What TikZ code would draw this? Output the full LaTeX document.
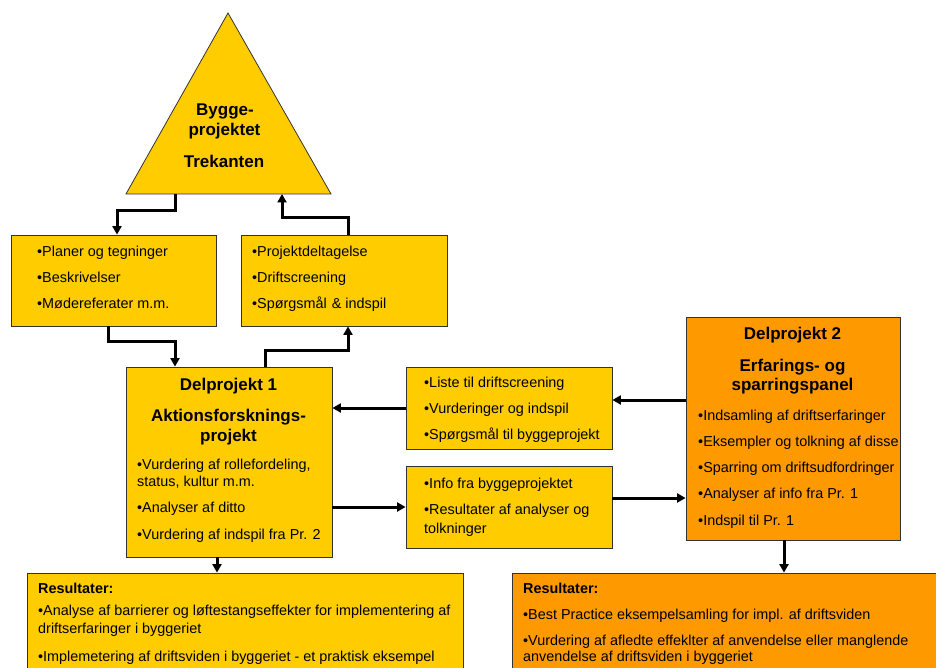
\documentclass[tikz,border=0pt]{standalone}
\usepackage{fontspec}
\setmainfont{Liberation Sans}
\usetikzlibrary{arrows.meta}
\definecolor{gulfelt}{HTML}{FFCC00}
\definecolor{orangefelt}{HTML}{FF9900}
\begin{document}
\begin{tikzpicture}[x=1pt,y=-1pt,
  felt/.style={draw=black!80,line width=0.8pt,fill=gulfelt,inner sep=0},
  ofelt/.style={felt,fill=orangefelt},
  pil/.style={line width=3pt,-{Triangle[length=8.5pt,width=9pt]}},
  tekst/.style={anchor=base west,inner sep=0,font=\fontsize{14.4}{16}\selectfont},
  titel/.style={anchor=base,inner sep=0,font=\fontsize{17}{20}\selectfont\bfseries},
  rtitel/.style={anchor=base west,inner sep=0,font=\fontsize{14.4}{16}\selectfont\bfseries}]
\useasboundingbox (0,0) rectangle (936,668);
\clip (0,0) rectangle (936,668);
\draw[felt] (228,13) -- (331,194) -- (126,194) -- cycle;
\coordinate (trigrund) at (228,194);
\node[titel] (tri1) at (225,116) {Bygge-};
\node[titel] (tri2) at (224.5,136) {projektet};
\node[titel] (tri3) at (224,167.5) {Trekanten};
\node[felt,minimum width=205pt,minimum height=91pt] (plan) at (113.5,280.5) {};
\node[tekst] (plan1) at (37,256) {•Planer og tegninger};
\node[tekst] (plan2) at (37,282) {•Beskrivelser};
\node[tekst] (plan3) at (37,308) {•Mødereferater m.m.};
\node[felt,minimum width=206pt,minimum height=91pt] (deltag) at (344,280.5) {};
\node[tekst] (deltag1) at (252,256) {•Projektdeltagelse};
\node[tekst] (deltag2) at (252,282) {•Driftscreening};
\node[tekst] (deltag3) at (252,308) {•Spørgsmål\hspace{5pt}\& indspil};
\node[felt,minimum width=206pt,minimum height=190pt] (dp1) at (229,462) {};
\node[titel] (dp1a) at (228.5,390) {Delprojekt 1};
\node[titel] (dp1b) at (228.5,421.5) {Aktionsforsknings-};
\node[titel] (dp1c) at (228.5,441) {projekt};
\node[tekst] (dp1d) at (137,469) {•Vurdering af rollefordeling,};
\node[tekst] (dp1e) at (137,486) {status, kultur m.m.};
\node[tekst] (dp1f) at (137,512) {•Analyser af ditto};
\node[tekst] (dp1g) at (137,539) {•Vurdering af indspil fra Pr. 2};
\node[felt,minimum width=206pt,minimum height=82pt] (liste) at (509,408) {};
\node[tekst] (liste1) at (424,387) {•Liste til driftscreening};
\node[tekst] (liste2) at (424,413) {•Vurderinger og indspil};
\node[tekst] (liste3) at (424,439) {•Spørgsmål til byggeprojekt};
\node[felt,minimum width=206pt,minimum height=82pt] (info) at (509,507) {};
\node[tekst] (info1) at (424,488) {•Info fra byggeprojektet};
\node[tekst] (info2) at (424,514) {•Resultater af analyser og};
\node[tekst] (info3) at (424,533) {tolkninger};
\node[ofelt,minimum width=214pt,minimum height=223pt] (dp2) at (793,428.5) {};
\node[titel] (dp2a) at (792.5,339) {Delprojekt 2};
\node[titel] (dp2b) at (792.5,371) {Erfarings- og};
\node[titel] (dp2c) at (792.5,390.5) {sparringspanel};
\node[tekst] (dp2d) at (698,420.5) {•Indsamling af driftserfaringer};
\node[tekst] (dp2e) at (698,446.5) {•Eksempler og tolkning af disse};
\node[tekst] (dp2f) at (698,472.5) {•Sparring om driftsudfordringer};
\node[tekst] (dp2g) at (698,498.5) {•Analyser af info fra Pr. 1};
\node[tekst] (dp2h) at (698,525) {•Indspil til Pr. 1};
\node[felt,minimum width=436pt,minimum height=117pt] (resA) at (245,631.5) {};
\node[rtitel] (resA1) at (38,593) {Resultater:};
\node[tekst] (resA2) at (38,615) {•Analyse af barrierer og løftestangseffekter for implementering af};
\node[tekst] (resA3) at (38,633) {driftserfaringer i byggeriet};
\node[tekst] (resA4) at (38,661) {•Implemetering af driftsviden i byggeriet - et praktisk eksempel};
\node[ofelt,minimum width=438pt,minimum height=117pt] (resB) at (731,631.5) {};
\node[rtitel] (resB1) at (523,593) {Resultater:};
\node[tekst] (resB2) at (523,619) {•Best Practice eksempelsamling for impl. af driftsviden};
\node[tekst] (resB3) at (523,645) {•Vurdering af afledte effeklter af anvendelse eller manglende};
\node[tekst] (resB4) at (523,661) {anvendelse af driftsviden i byggeriet};
\draw[pil] (trigrund -| 175,0) |- (117,211) -- (plan.north -| 117,0);
\draw[pil] (deltag.north -| 348,0) |- (282,218) -- (trigrund -| 282,0);
\draw[pil] (plan.south -| 108,0) |- (175,341) -- (dp1.north -| 175,0);
\draw[pil] (dp1.north -| 265,0) |- (348,350) -- (deltag.south -| 348,0);
\draw[pil] (liste.west) -- (dp1.east |- liste.west);
\draw[pil] (dp1.east |- info.west) -- (info.west);
\draw[pil] (dp2.west |- 0,400) -- (liste.east |- 0,400);
\draw[pil] (info.east |- 0,498) -- (dp2.west |- 0,498);
\draw[pil] (dp1.south -| 217,0) -- (resA.north -| 217,0);
\draw[pil] (dp2.south -| 784,0) -- (resB.north -| 784,0);
\end{tikzpicture}
\end{document}
